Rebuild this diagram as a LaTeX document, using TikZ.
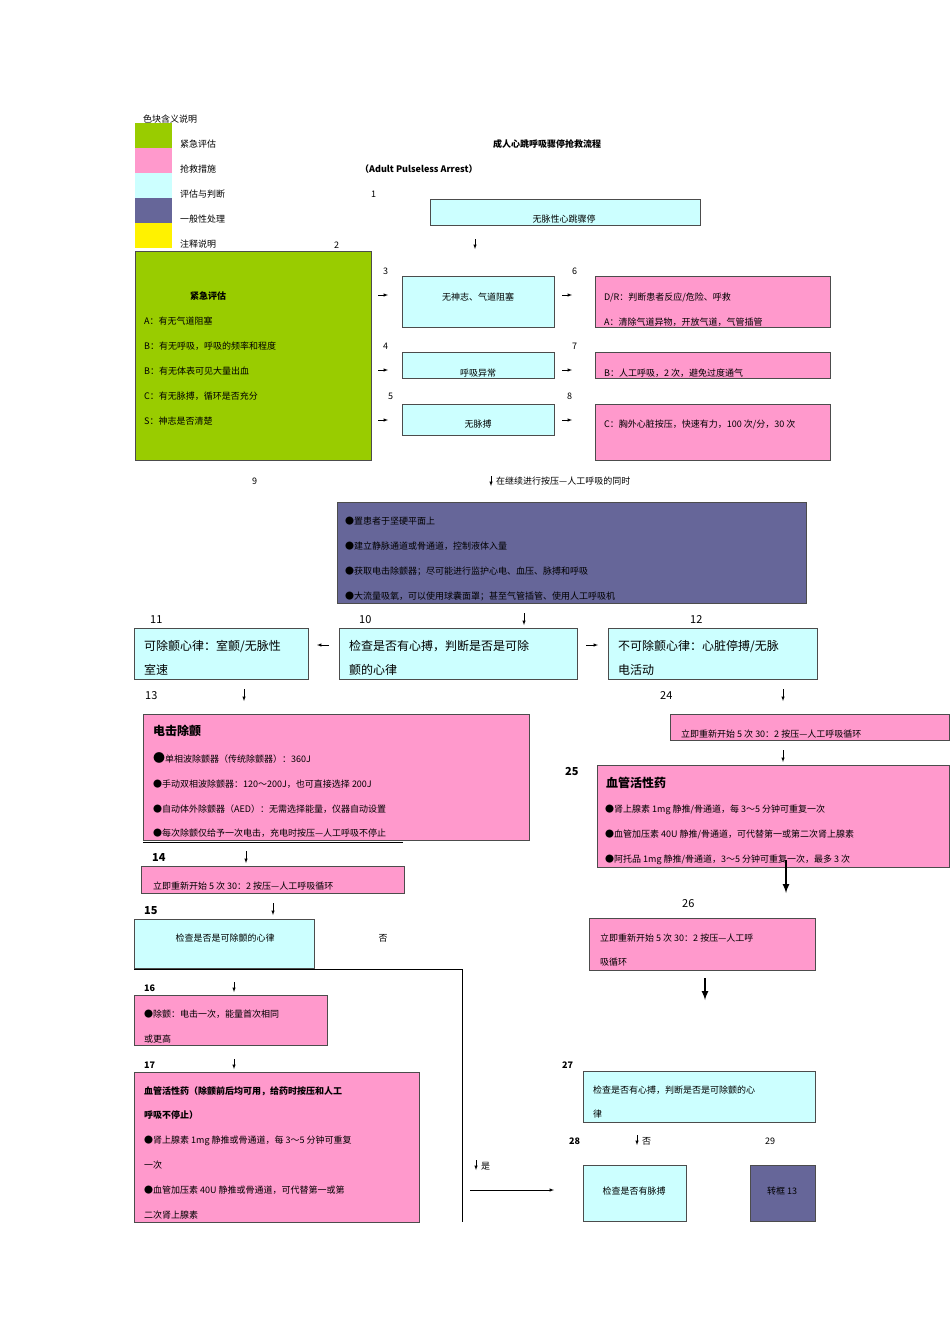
\documentclass[tikz,border=0pt]{standalone}
\usepackage{fontspec}
\setmainfont{Noto Sans CJK SC}
\begin{document}
\begin{tikzpicture}[x=1pt,y=-1pt,
 box/.style={draw=black!70,line width=0.8pt},
 cy/.style={box,fill=cyan!20},
 pk/.style={box,fill=magenta!40!pink},
 gr/.style={box,fill=green!50!yellow!80!black},
 pu/.style={box,fill=blue!30!gray!90!black},
 t/.style={anchor=base west,inner sep=0,font=\fontsize{9}{9}\selectfont},
 tc/.style={anchor=base,inner sep=0,font=\fontsize{9}{9}\selectfont},
 tm/.style={anchor=base west,inner sep=0,font=\fontsize{12}{12}\selectfont},
 tb/.style={anchor=base west,inner sep=0,font=\fontsize{12}{12}\selectfont\bfseries},
 ar/.style={-latex,line width=0.5pt},
 thk/.style={-latex,line width=2pt}]
\useasboundingbox (0,0) rectangle (950,1344);
\definecolor{pinkc}{RGB}{255,153,204}
\definecolor{cyanc}{RGB}{204,255,255}
\definecolor{greenc}{RGB}{153,204,0}
\definecolor{purc}{RGB}{102,102,153}
\tikzset{cy/.append style={fill=cyanc},pk/.append style={fill=pinkc},gr/.append style={fill=greenc},pu/.append style={fill=purc}}
% legend
\node[t] (lt) at (143,122) {色块含义说明};
\fill[greenc] (135,123) rectangle (172,148);
\fill[pinkc] (135,148) rectangle (172,173);
\fill[cyanc] (135,173) rectangle (172,198);
\fill[purc] (135,198) rectangle (172,223);
\fill[yellow] (135,223) rectangle (172,248);
\node[t] (l1) at (180,147) {紧急评估};
\node[t] (l2) at (180,172) {抢救措施};
\node[t] (l3) at (180,197) {评估与判断};
\node[t] (l4) at (180,222) {一般性处理};
\node[t] (l5) at (180,247) {注释说明};
\node[tc,font=\fontsize{9}{9}\selectfont\bfseries] (title) at (547,147) {成人心跳呼吸骤停抢救流程};
\node[t,font=\fontsize{9}{9}\selectfont\bfseries] (sub) at (360,172) {（Adult Pulseless Arrest）};
\node[t] (n1) at (371,197) {1};
\draw[cy] (430,199) rectangle (700,225);
\node[tc] (b1) at (564,222) {无脉性心跳骤停};
\draw[ar] (475,239) -- (475,249);
\node[t] (n2) at (334,248) {2};
% green
\draw[gr] (135,251) rectangle (371,460);
\node[t,font=\fontsize{9}{9}\selectfont\bfseries] (ga) at (190,299) {紧急评估};
\node[t] (g1) at (144,324) {A：有无气道阻塞};
\node[t] (g2) at (144,349) {B：有无呼吸，呼吸的频率和程度};
\node[t] (g3) at (144,374) {B：有无体表可见大量出血};
\node[t] (g4) at (144,399) {C：有无脉搏，循环是否充分};
\node[t] (g5) at (144,424) {S：神志是否清楚};
\foreach \y in {295,370,420}{\draw[ar] (378,\y) -- (388,\y); \draw[ar] (562,\y) -- (572,\y);}
\node[t] (n3) at (383,274) {3};
\node[t] (n4) at (383,349) {4};
\node[t] (n5) at (388,399) {5};
\node[t] (n6) at (572,274) {6};
\node[t] (n7) at (572,349) {7};
\node[t] (n8) at (567,399) {8};
\draw[cy] (402,276) rectangle (554,327); \node[tc] (c3) at (478,300) {无神志、气道阻塞};
\draw[cy] (402,352) rectangle (554,378); \node[tc] (c4) at (478,376) {呼吸异常};
\draw[cy] (402,404) rectangle (554,435); \node[tc] (c5) at (478,427) {无脉搏};
\draw[pk] (595,276) rectangle (830,327);
\node[t] (p6a) at (604,300) {D/R：判断患者反应/危险、呼救};
\node[t] (p6b) at (604,325) {A：清除气道异物，开放气道，气管插管};
\draw[pk] (595,352) rectangle (830,378); \node[t] (p7) at (604,376) {B：人工呼吸，2 次，避免过度通气};
\draw[pk] (595,404) rectangle (830,460); \node[t] (p8) at (604,427) {C：胸外心脏按压，快速有力，100 次/分，30 次};
\node[t] (n9) at (252,484) {9};
\draw[ar] (491,476) -- (491,486);
\node[t] (cont) at (496,484) {在继续进行按压—人工呼吸的同时};
% purple
\draw[pu] (337,502) rectangle (806,603);
\node[t] (u1) at (345,524) {●置患者于坚硬平面上};
\node[t] (u2) at (345,549) {●建立静脉通道或骨通道，控制液体入量};
\node[t] (u3) at (345,574) {●获取电击除颤器；尽可能进行监护心电、血压、脉搏和呼吸};
\node[t] (u4) at (345,599) {●大流量吸氧，可以使用球囊面罩；甚至气管插管、使用人工呼吸机};
\node[t,font=\fontsize{11}{11}\selectfont] (n11) at (150,623) {11};
\node[t,font=\fontsize{11}{11}\selectfont] (n10) at (359,623) {10};
\node[t,font=\fontsize{11}{11}\selectfont] (n12) at (690,623) {12};
\draw[ar] (524,613) -- (524,625);
\draw[cy] (134,628) rectangle (308,679);
\node[tm] (c11a) at (144,650) {可除颤心律：室颤/无脉性};
\node[tm] (c11b) at (144,674) {室速};
\draw[cy] (339,628) rectangle (577,679);
\node[tm] (c10a) at (349,650) {检查是否有心搏，判断是否是可除};
\node[tm] (c10b) at (349,674) {颤的心律};
\draw[cy] (608,628) rectangle (817,679);
\node[tm] (c12a) at (618,650) {不可除颤心律：心脏停搏/无脉};
\node[tm] (c12b) at (618,674) {电活动};
\draw[ar] (329,645) -- (317,645);
\draw[ar] (586,645) -- (598,645);
\node[t,font=\fontsize{11}{11}\selectfont] (n13) at (145,699) {13};
\draw[ar] (244,689) -- (244,701);
\node[t,font=\fontsize{11}{11}\selectfont] (n24) at (660,699) {24};
\draw[ar] (783,689) -- (783,701);
% 13
\draw[pk] (143,714) rectangle (529,840);
\draw[line width=1pt] (143,842) -- (403,842);
\node[tb] (e0) at (153,735) {电击除颤};
\node[t] (e1) at (153,762) {\fontsize{12}{12}\selectfont●\fontsize{9}{9}\selectfont 单相波除颤器（传统除颤器）：360J};
\node[t] (e2) at (153,787) {●手动双相波除颤器：120～200J，也可直接选择 200J};
\node[t] (e3) at (153,812) {●自动体外除颤器（AED）：无需选择能量，仪器自动设置};
\node[t] (e4) at (153,836) {●每次除颤仅给予一次电击，充电时按压—人工呼吸不停止};
% 24
\draw[pk] (670,714) rectangle (949,740);
\node[t] (p24) at (681,737) {立即重新开始 5 次 30：2 按压—人工呼吸循环};
\draw[ar] (783,750) -- (783,762);
\node[t,font=\fontsize{11}{11}\selectfont\bfseries] (n25) at (565,775) {25};
\draw[pk] (597,765) rectangle (949,867);
\node[tb] (v0) at (606,787) {血管活性药};
\node[t] (v1) at (605,812) {●肾上腺素 1mg 静推/骨通道，每 3～5 分钟可重复一次};
\node[t] (v2) at (605,837) {●血管加压素 40U 静推/骨通道，可代替第一或第二次肾上腺素};
\node[t] (v3) at (605,862) {●阿托品 1mg 静推/骨通道，3～5 分钟可重复一次，最多 3 次};
\draw[thk] (786,860) -- (786,893);
% 14
\node[t,font=\fontsize{11}{11}\selectfont\bfseries] (n14) at (152,861) {14};
\draw[ar] (246,851) -- (246,863);
\draw[pk] (141,866) rectangle (404,893);
\node[t] (p14) at (153,889) {立即重新开始 5 次 30：2 按压—人工呼吸循环};
\node[t,font=\fontsize{11}{11}\selectfont\bfseries] (n15) at (144,914) {15};
\draw[ar] (273,903) -- (273,915);
\draw[cy] (134,919) rectangle (314,968);
\node[tc] (c15) at (225,941) {检查是否是可除颤的心律};
\node[tc] (no1) at (383,941) {否};
\draw[line width=0.8pt] (134,969) -- (462,969) -- (462,1222);
% 26
\node[t,font=\fontsize{11}{11}\selectfont] (n26) at (682,907) {26};
\draw[pk] (589,918) rectangle (815,970);
\node[t] (p26a) at (600,941) {立即重新开始 5 次 30：2 按压—人工呼};
\node[t] (p26b) at (600,965) {吸循环};
\draw[thk] (705,978) -- (705,1000);
% 16
\node[t,font=\fontsize{9}{9}\selectfont\bfseries] (n16) at (144,991) {16};
\draw[ar] (234,982) -- (234,992);
\draw[pk] (134,995) rectangle (327,1045);
\node[t] (p16a) at (144,1017) {●除颤：电击一次，能量首次相同};
\node[t] (p16b) at (144,1042) {或更高};
\node[t,font=\fontsize{9}{9}\selectfont\bfseries] (n17) at (144,1068) {17};
\draw[ar] (234,1059) -- (234,1069);
\draw[pk] (134,1072) rectangle (419,1222);
\node[t,font=\fontsize{9}{9}\selectfont\bfseries] (h1) at (144,1094) {血管活性药（除颤前后均可用，给药时按压和人工};
\node[t,font=\fontsize{9}{9}\selectfont\bfseries] (h2) at (144,1118) {呼吸不停止）};
\node[t] (h3) at (144,1143) {●肾上腺素 1mg 静推或骨通道，每 3～5 分钟可重复};
\node[t] (h4) at (144,1168) {一次};
\node[t] (h5) at (144,1193) {●血管加压素 40U 静推或骨通道，可代替第一或第};
\node[t] (h6) at (144,1218) {二次肾上腺素};
% 27
\node[t,font=\fontsize{9}{9}\selectfont\bfseries] (n27) at (562,1068) {27};
\draw[cy] (583,1071) rectangle (815,1122);
\node[t] (c27a) at (593,1093) {检查是否有心搏，判断是否是可除颤的心};
\node[t] (c27b) at (593,1117) {律};
\node[t,font=\fontsize{9}{9}\selectfont\bfseries] (n28) at (569,1144) {28};
\draw[ar] (637,1135) -- (637,1145);
\node[t] (no2) at (642,1144) {否};
\node[t] (n29) at (765,1144) {29};
\draw[ar] (476,1160) -- (476,1170);
\node[t] (yes) at (481,1169) {是};
\draw[ar] (470,1190) -- (554,1190);
\draw[cy] (583,1165) rectangle (686,1221);
\node[tc] (c28) at (634,1194) {检查是否有脉搏};
\draw[pu] (750,1165) rectangle (815,1221);
\node[tc] (c29) at (782,1194) {转框 13};
\end{tikzpicture}
\end{document}
